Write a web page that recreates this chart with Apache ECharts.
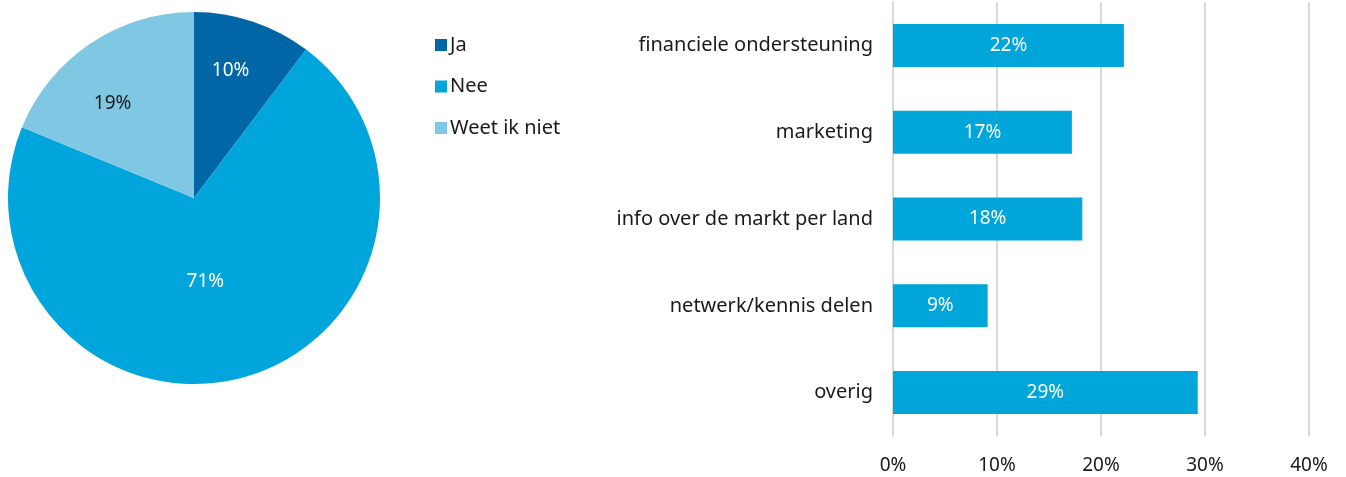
<!DOCTYPE html>
<html>
<head>
<meta charset="utf-8">
<script src="https://cdn.jsdelivr.net/npm/echarts@6/dist/echarts.min.js"></script>
<style>
  html, body { margin: 0; padding: 0; background: #fff; }
  #chart { width: 1346px; height: 477px; }
</style>
</head>
<body>
<div id="chart"></div>
<script>
// pie: answers
const pieNames = ["Ja", "Nee", "Weet ik niet"];
const pieValues = [10.3, 70.9, 18.8];
const pieColors = ["#0066a6", "#00a5db", "#80c7e4"];

// bars: type of support
const barCategories = [
  "financiele ondersteuning",
  "marketing",
  "info over de markt per land",
  "netwerk/kennis delen",
  "overig",
];
const barValues = [22.2, 17.2, 18.2, 9.1, 29.3];
const xTicks = [0, 10, 20, 30, 40];

const font = "Noto Sans";
const labelOffsets = [[6, -36], [-14, -9], [-28, -15]];
const labelColors = ["#fff", "#fff", "#1a1a1a"];

const chart = echarts.init(document.getElementById("chart"));

const option = {
  animation: false,
  textStyle: { fontFamily: font },
  legend: {
    orient: "vertical",
    left: 430,
    top: 30,
    itemWidth: 12,
    itemHeight: 12,
    itemGap: 21.5,
    icon: "rect",
    data: pieNames,
    textStyle: { fontFamily: font, fontSize: 20, color: "#1a1a1a", padding: [0, 0, 0, -2] },
  },
  grid: { left: 893, right: 37, top: 2, bottom: 41 },
  xAxis: {
    type: "value",
    min: xTicks[0],
    max: xTicks[xTicks.length - 1],
    interval: 10,
    axisLine: { show: false },
    axisTick: { show: false },
    splitLine: { lineStyle: { color: "#d9d9d9", width: 2 } },
    axisLabel: {
      formatter: (v) => v + "%",
      fontFamily: font,
      fontSize: 19,
      color: "#1a1a1a",
      margin: 20,
    },
  },
  yAxis: {
    type: "category",
    inverse: true,
    data: barCategories,
    axisLine: { lineStyle: { color: "#d9d9d9", width: 2 } },
    axisTick: { show: false },
    axisLabel: { fontFamily: font, fontSize: 20, color: "#1a1a1a", margin: 20 },
  },
  series: [
    {
      type: "pie",
      center: [194, 198],
      radius: [0, 186],
      startAngle: 90,
      clockwise: true,
      data: pieNames.map((n, i) => ({
        name: n,
        value: pieValues[i],
        itemStyle: { color: pieColors[i] },
        label: { offset: labelOffsets[i], color: labelColors[i] },
      })),
      label: {
        show: true,
        position: "inside",
        formatter: (p) => Math.round(p.value) + "%",
        fontFamily: font,
        fontSize: 19,
      },
      labelLine: { show: false },
      itemStyle: { borderWidth: 0 },
      emphasis: { disabled: true },
    },
    {
      type: "bar",
      data: barValues,
      barWidth: 43,
      itemStyle: { color: "#00a6da" },
      label: {
        show: true,
        position: "inside",
        formatter: (p) => Math.round(p.value) + "%",
        color: "#fff",
        fontFamily: font,
        fontSize: 19,
      },
    },
  ],
};

chart.setOption(option);
</script>
</body>
</html>
